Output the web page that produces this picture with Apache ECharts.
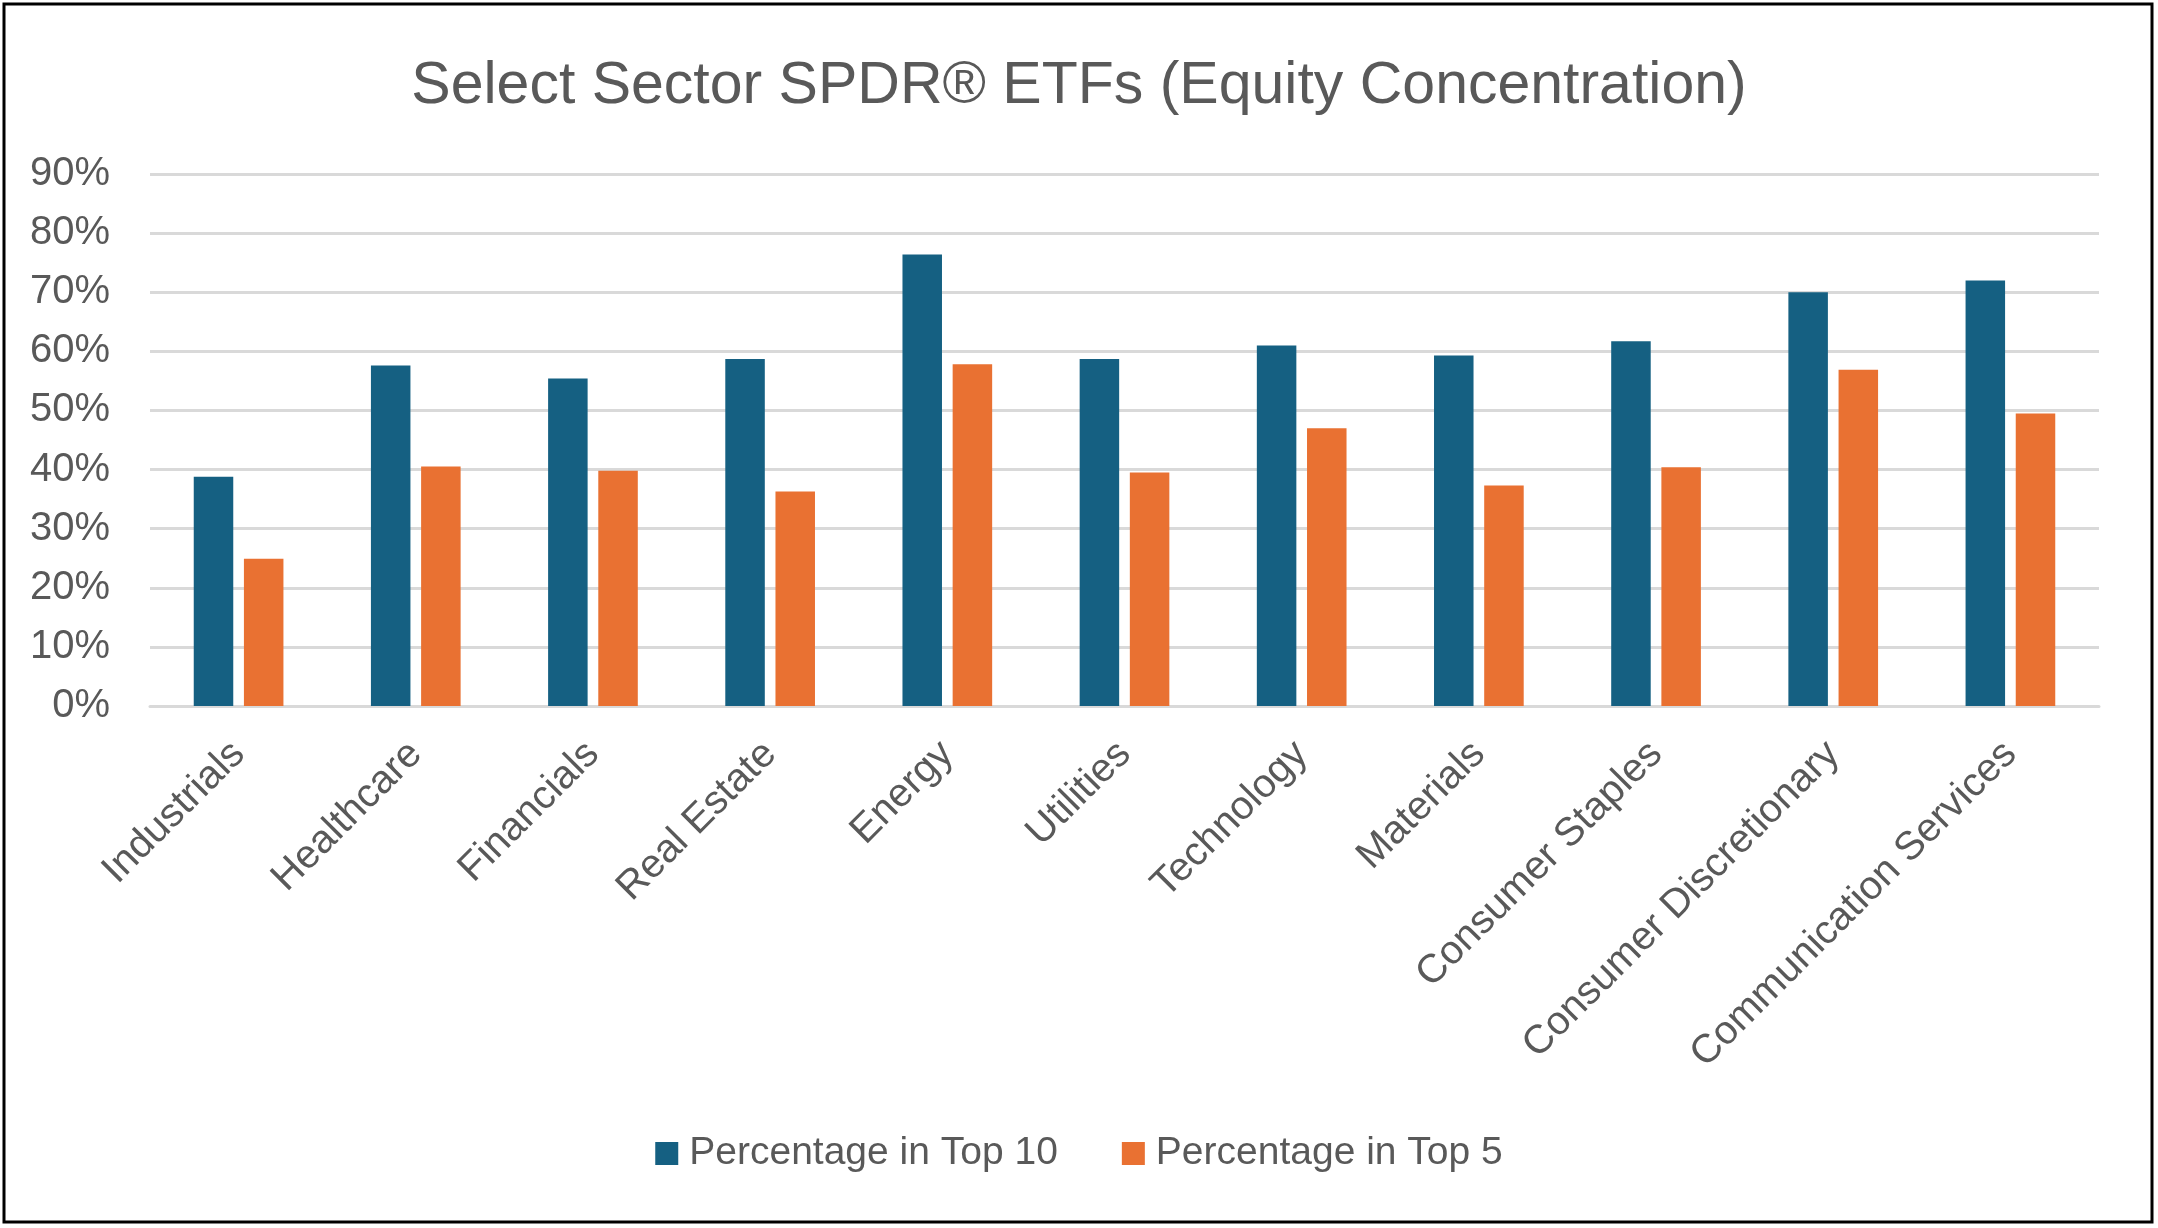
<!DOCTYPE html>
<html>
<head>
<meta charset="utf-8">
<script src="https://cdn.jsdelivr.net/npm/echarts@6/dist/echarts.min.js"></script>
<style>
html,body{margin:0;padding:0;background:#fff;}
#chart{width:2158px;height:1228px;}
</style>
</head>
<body>
<div id="chart"></div>
<script>
const titleText = 'Select Sector SPDR® ETFs (Equity Concentration)';
const categories = ['Industrials','Healthcare','Financials','Real Estate','Energy','Utilities','Technology','Materials','Consumer Staples','Consumer Discretionary','Communication Services'];
const seriesNames = ['Percentage in Top 10','Percentage in Top 5'];
const top10 = [38.8, 57.6, 55.4, 58.7, 76.4, 58.7, 61.0, 59.3, 61.7, 70.0, 72.0];
const top5 = [24.9, 40.5, 39.8, 36.3, 57.8, 39.5, 47.0, 37.3, 40.4, 56.9, 49.5];
const yTicks = {min: 0, max: 90, interval: 10};

const textColor = '#595959';
const chart = echarts.init(document.getElementById('chart'), null, {renderer: 'canvas'});
chart.setOption({
  backgroundColor: '#ffffff',
  animation: false,
  title: {
    text: titleText,
    left: 'center',
    top: 52,
    textStyle: {fontFamily: 'Liberation Sans', fontSize: 59, fontWeight: 'normal', color: textColor}
  },
  graphic: [{
    type: 'rect',
    shape: {x: 4, y: 4, width: 2148, height: 1218},
    style: {fill: 'none', stroke: '#000', lineWidth: 3},
    silent: true
  }],
  legend: {
    bottom: 50,
    left: 'center',
    itemWidth: 23,
    itemHeight: 23,
    itemGap: 64,
    textStyle: {fontFamily: 'Liberation Sans', fontSize: 39, color: textColor, padding: [0, 0, 0, 6]},
    icon: 'rect',
    data: seriesNames
  },
  grid: {left: 150, right: 59, top: 174, bottom: 522, containLabel: false},
  xAxis: {
    type: 'category',
    data: categories,
    axisLine: {show: true, lineStyle: {color: '#d9d9d9', width: 3}},
    axisTick: {show: false},
    axisLabel: {rotate: 45, margin: 42, interval: 0, fontFamily: 'Liberation Sans', fontSize: 40, color: textColor}
  },
  yAxis: {
    type: 'value',
    min: yTicks.min, max: yTicks.max, interval: yTicks.interval,
    axisLine: {show: false},
    axisTick: {show: false},
    splitLine: {lineStyle: {color: '#d9d9d9', width: 3}},
    axisLabel: {formatter: '{value}%', margin: 40, fontFamily: 'Liberation Sans', fontSize: 40, color: textColor}
  },
  series: [
    {name: seriesNames[0], type: 'bar', data: top10, barWidth: '22.3%', barGap: '27%', itemStyle: {color: '#156082'}},
    {name: seriesNames[1], type: 'bar', data: top5, barWidth: '22.3%', barGap: '27%', itemStyle: {color: '#E97132'}}
  ]
});
</script>
</body>
</html>
